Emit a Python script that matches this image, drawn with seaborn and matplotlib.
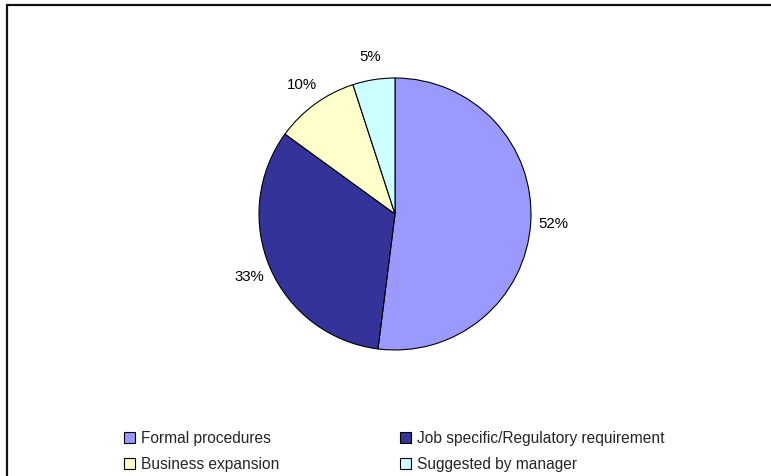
import matplotlib
matplotlib.use("Agg")
import matplotlib.pyplot as plt
from matplotlib.patches import Rectangle, Patch
import seaborn as sns

categories = ["Formal procedures", "Job specific/Regulatory requirement",
              "Business expansion", "Suggested by manager"]
shares = [52, 33, 10, 5]
colors = ["#9999FF", "#333399", "#FFFFCC", "#CCFFFF"]

sns.set_theme(style="white")
plt.rcParams["font.family"] = ["Liberation Sans", "DejaVu Sans"]

W, H = 771, 476
fig = plt.figure(figsize=(W / 100, H / 100), dpi=100)
fig.patch.set_facecolor("white")

# pie area: centre (395, 214) px, radius 136 px
cx, cy, r = 395, 214, 136
ax = fig.add_axes([(cx - r) / W, (H - cy - r) / H, 2 * r / W, 2 * r / H])
wedges, texts, autotexts = ax.pie(
    shares, colors=colors, startangle=90, counterclock=False,
    autopct=lambda p: f"{p:.0f}%", pctdistance=1.17, radius=1,
    wedgeprops=dict(edgecolor="black", linewidth=0.8),
    textprops=dict(fontsize=10.8, color="black"),
)
ax.set_xlim(-1, 1)
ax.set_ylim(-1, 1)
ax.set_aspect("equal")
ax.axis("off")

# legend is filled column by column, so interleave for row-wise reading
handles = [Patch(facecolor=c, edgecolor="black", linewidth=0.8) for c in colors]
order = [0, 2, 1, 3]
leg = fig.legend(
    [handles[i] for i in order], [categories[i] for i in order],
    ncol=2, loc="upper left", bbox_to_anchor=(124 / W, 1 - 431 / H),
    frameon=False, fontsize=11.2, handlelength=0.7, handleheight=0.7,
    handletextpad=0.4, columnspacing=7.75, labelspacing=0.7,
    borderaxespad=0, borderpad=0,
)

# outer frame, open at right and bottom edges
fig.add_artist(Rectangle((6.5 / W, -0.05), 1.1, 1 - 5.5 / H + 0.05,
                         transform=fig.transFigure, fill=False,
                         edgecolor="#111111", linewidth=1.6, clip_on=False))

fig.savefig("out.png", dpi=100, facecolor="white")
